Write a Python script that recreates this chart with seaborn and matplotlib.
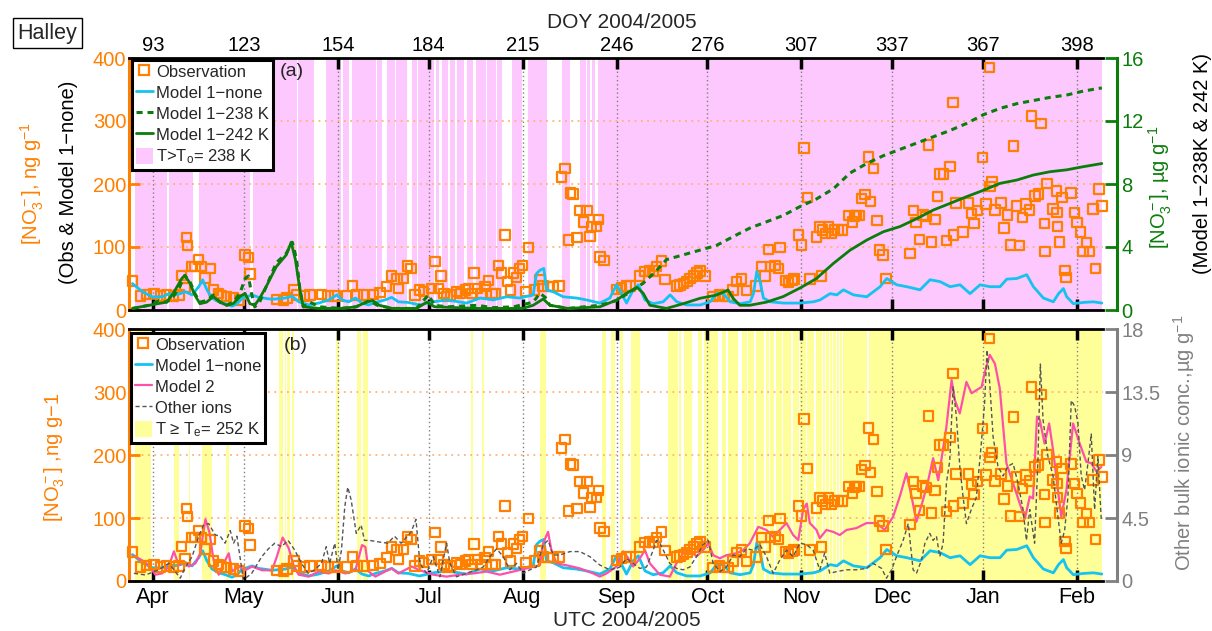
import numpy as np
import pandas as pd
import matplotlib
matplotlib.use("Agg")
import matplotlib.pyplot as plt
import seaborn as sns
from matplotlib.lines import Line2D
from matplotlib.patches import Patch

# ---------------- data (x = day of year 2004/2005) ----------------
doy_ticks = [93, 123, 154, 184, 215, 246, 276, 307, 337, 367, 398]
doy_labels = ["93", "123", "154", "184", "215", "246", "276", "307", "337", "367", "398"]
month_labels = ["Apr", "May", "Jun", "Jul", "Aug", "Sep", "Oct", "Nov", "Dec", "Jan", "Feb"]

obs_doy = [86.2, 88.9, 90.9, 93.3, 95.5, 97.5, 99.7, 101.6, 102.5, 103.6, 104.1, 104.3, 105.8, 106.9,
           108.0, 109.1, 110.2, 112.0, 112.9, 114.6, 115.5, 117.3, 119.5, 121.5, 123.4, 124.5, 125.0,
           133.8, 136.0, 137.3, 139.5, 140.4, 142.8, 144.8, 148.7, 150.8, 153.1, 156.9, 158.9, 160.4,
           162.4, 165.7, 167.9, 170.1, 171.8, 173.5, 174.0, 175.6, 177.0, 178.1, 179.5, 181.0, 182.3,
           185.0, 186.1, 187.2, 188.0, 189.1, 190.0, 191.2, 193.4, 194.5, 196.1, 197.2, 198.3, 198.9,
           200.2, 201.3, 202.6, 203.7, 204.9, 206.0, 207.0, 208.1, 209.2, 210.0, 211.1, 212.0, 213.0,
           214.0, 215.0, 216.1, 216.9, 219.0, 220.7, 221.8, 223.4, 225.1, 227.0, 227.9, 229.0, 230.1,
           230.8, 231.7, 232.9, 234.0, 235.1, 236.2, 237.3, 237.8, 239.4, 240.1, 240.5, 241.9, 246.0,
           247.7, 249.3, 250.5, 253.5, 255.4, 256.8, 258.1, 259.2, 260.8, 262.0, 265.9, 267.0, 268.1,
           269.2, 270.3, 271.4, 272.5, 273.6, 275.2, 277.8, 280.0, 281.6, 282.8, 284.5, 285.6, 287.3,
           288.9, 292.0, 293.9, 295.0, 296.1, 296.9, 298.3, 299.4, 300.0, 301.7, 302.8, 303.9, 304.6,
           306.0, 307.1, 307.9, 309.0, 309.9, 312.0, 313.1, 313.7, 314.0, 314.9, 316.0, 316.9, 318.0,
           319.1, 320.4, 322.8, 323.9, 324.6, 325.3, 326.0, 326.9, 328.0, 329.1, 329.8, 330.9, 332.0,
           332.9, 333.9, 334.9, 342.9, 344.0, 344.9, 346.0, 347.1, 348.2, 349.0, 350.0, 351.1, 351.9,
           352.8, 353.9, 355.0, 356.1, 357.0, 357.2, 358.1, 360.3, 362.2, 363.2, 364.0, 365.2, 366.9,
           368.0, 369.1, 369.3, 369.9, 370.9, 372.9, 373.9, 375.0, 376.1, 377.0, 378.1, 379.0, 380.1,
           381.2, 382.3, 383.0, 384.2, 385.3, 386.1, 387.2, 387.4, 388.1, 390.1, 391.2, 391.4, 391.6,
           392.2, 393.0, 394.1, 394.3, 396.0, 397.1, 398.0, 399.1, 400.0, 401.1, 402.2, 403.3, 404.1,
           405.2, 406.3]
obs_val = [46, 22, 25, 26, 22, 24, 22, 24, 55, 36, 115, 102, 69, 69,
           80, 69, 51, 66, 32, 26, 22, 21, 19, 16, 87, 83, 57,
           17, 16, 19, 32, 24, 22, 24, 25, 22, 22, 22, 38, 24,
           24, 25, 28, 37, 54, 49, 34, 50, 70, 66, 24, 32, 29,
           34, 77, 34, 54, 26, 21, 24, 29, 26, 32, 34, 26, 59,
           34, 26, 37, 47, 26, 26, 71, 59, 119, 45, 32, 59, 52,
           66, 71, 29, 99, 32, 48, 38, 37, 37, 38, 211, 225, 111,
           186, 184, 115, 158, 140, 158, 117, 133, 133, 144, 84, 79, 33,
           36, 38, 38, 54, 61, 62, 62, 69, 78, 48, 38, 40, 42,
           45, 50, 54, 59, 62, 54, 21, 24, 21, 21, 32, 45, 49,
           31, 38, 69, 54, 96, 69, 71, 66, 99, 47, 44, 47, 49,
           119, 103, 257, 179, 49, 116, 132, 54, 127, 121, 132, 121, 127,
           127, 127, 150, 140, 149, 150, 150, 177, 183, 243, 172, 225, 142,
           95, 87, 50, 90, 158, 139, 112, 151, 148, 262, 108, 144, 180,
           216, 216, 110, 228, 329, 119, 170, 124, 170, 153, 137, 158, 242,
           168, 385, 196, 204, 159, 170, 130, 151, 103, 260, 165, 102, 147,
           168, 159, 308, 181, 184, 296, 137, 93, 201, 160, 189, 155, 133,
           108, 179, 63, 52, 186, 155, 139, 124, 93, 107, 93, 160, 66,
           192, 165]

m1none_doy = [86.2, 89.5, 92.8, 96.1, 98.3, 100.0, 102.1, 103.7, 105.9, 108.1, 109.4, 110.8, 112.5,
              114.7, 116.9, 119.1, 120.8, 122.4, 124.0, 125.7, 127.9, 132.3, 136.7, 138.9, 141.1,
              144.4, 147.7, 151.0, 153.7, 155.4, 157.6, 159.8, 162.0, 164.2, 166.4, 169.6, 171.8,
              174.0, 177.3, 181.0, 185.5, 190.0, 196.5, 201.0, 205.3, 209.7, 214.1, 218.5, 219.6,
              220.7, 222.0, 222.9, 225.1, 228.4, 232.8, 236.1, 240.5, 243.8, 246.0, 247.7, 249.3,
              251.5, 253.2, 255.4, 258.1, 261.4, 263.7, 265.9, 269.2, 273.6, 276.9, 279.1, 281.3,
              283.5, 286.8, 290.1, 291.2, 292.3, 293.4, 294.5, 296.7, 301.1, 306.6, 311.0, 313.2,
              316.5, 318.7, 320.9, 324.2, 328.6, 333.0, 335.2, 338.5, 341.8, 346.2, 349.5, 352.8,
              356.1, 359.4, 362.7, 366.0, 369.3, 372.6, 374.8, 378.1, 381.4, 383.6, 386.9, 390.2,
              391.9, 393.5, 394.6, 396.8, 400.1, 403.4, 406.2]
m1none_val = [42, 29, 21, 21, 26, 24, 26, 29, 24, 37, 48, 32, 19,
              13, 10, 6, 10, 19, 21, 24, 20, 17, 19, 22, 13,
              8, 11, 16, 24, 16, 13, 19, 11, 8, 12, 16, 20,
              13, 12, 8, 13, 16, 11, 19, 16, 21, 19, 24, 58,
              63, 66, 32, 29, 21, 19, 16, 11, 19, 40, 26, 11,
              32, 40, 16, 10, 13, 24, 13, 8, 8, 13, 26, 26,
              13, 10, 13, 26, 61, 45, 19, 13, 11, 11, 13, 16,
              26, 24, 32, 24, 21, 37, 50, 40, 37, 32, 48, 45,
              37, 40, 26, 40, 37, 37, 49, 50, 56, 37, 19, 13,
              26, 34, 21, 10, 12, 13, 11]

m238_doy = [86.2, 91.7, 95.0, 97.5, 99.7, 101.9, 103.5, 105.2, 106.8, 108.5, 110.7, 112.9, 115.1,
            117.3, 119.5, 121.7, 123.4, 124.5, 125.5, 126.6, 128.2, 130.4, 133.7, 137.0, 139.0,
            140.4, 141.5, 142.6, 144.8, 148.0, 155.0, 160.0, 164.5, 167.0, 172.0, 180.0, 183.9,
            186.0, 190.0, 200.0, 205.0, 212.0, 218.5, 220.7, 222.5, 224.0, 230.0, 240.5, 246.0,
            251.5, 254.8, 259.2, 262.5, 268.0, 273.5, 279.0, 284.5, 290.0, 295.5, 301.0, 306.5,
            312.0, 317.6, 323.1, 328.6, 334.1, 339.6, 345.1, 350.6, 356.1, 361.6, 367.1, 372.6,
            378.1, 383.6, 389.1, 394.6, 400.1, 406.2]
m238_val = [0.1, 0.3, 0.6, 0.5, 0.85, 1.5, 2.2, 1.8, 1.06, 0.5, 0.6, 0.95, 0.5,
            0.3, 0.5, 1.06, 2.0, 2.16, 1.06, 0.2, 0.5, 1.5, 3.0, 3.6, 4.3,
            3.2, 1.3, 0.2, 0.5, 0.2, 0.1, 0.2, 0.6, 0.3, 0.1, 0.1, 0.95,
            0.3, 0.2, 0.3, 0.15, 0.2, 0.5, 1.06, 0.8, 0.3, 0.1, 0.3, 0.6,
            1.27, 1.7, 2.5, 3.2, 3.5, 3.8, 4.1, 4.66, 5.2, 5.6, 6.0, 6.56,
            7.05, 7.7, 8.7, 9.3, 9.8, 10.2, 10.6, 11.0, 11.4, 11.85, 12.4, 12.8,
            13.1, 13.3, 13.5, 13.65, 13.9, 14.1]

m242_doy = [86.2, 91.7, 97.5, 99.7, 102.5, 103.5, 105.2, 106.8, 108.5, 110.7, 112.9, 115.1, 117.3,
            119.5, 121.7, 123.4, 125.0, 126.6, 128.2, 130.4, 133.7, 137.0, 138.6, 140.0, 141.5,
            142.6, 148.0, 155.0, 160.0, 163.4, 165.5, 167.7, 172.0, 180.0, 183.4, 186.0, 200.0,
            215.0, 218.5, 221.8, 224.0, 230.0, 240.5, 246.0, 249.3, 252.8, 254.8, 257.0, 262.5,
            268.0, 273.5, 279.0, 282.8, 284.5, 286.7, 290.0, 295.5, 301.0, 307.0, 312.0, 317.6,
            323.1, 328.6, 334.1, 339.6, 345.1, 350.6, 356.1, 361.6, 367.1, 372.6, 378.1, 383.6,
            389.1, 394.6, 400.1, 406.2]
m242_val = [0.1, 0.3, 0.5, 1.06, 2.0, 2.2, 1.7, 0.95, 0.4, 0.5, 0.85, 0.5, 0.3,
            0.4, 0.85, 1.06, 0.4, 0.3, 0.74, 1.5, 2.75, 3.5, 4.3, 3.2, 1.27,
            0.2, 0.1, 0.1, 0.2, 0.5, 0.6, 0.3, 0.1, 0.1, 0.5, 0.2, 0.1,
            0.1, 0.3, 0.7, 0.3, 0.1, 0.2, 0.63, 1.06, 1.44, 1.06, 0.3, 0.1,
            0.4, 0.74, 0.95, 1.27, 0.74, 0.3, 0.3, 0.5, 0.85, 1.44, 2.0, 2.96,
            3.8, 4.44, 4.97, 5.3, 5.8, 6.35, 6.77, 7.2, 7.6, 8.04, 8.25, 8.57,
            8.78, 8.9, 9.1, 9.3]

m2_doy = [86.7, 89.4, 91.6, 93.8, 96.0, 98.2, 99.9, 101.5, 103.2, 104.8, 107.0, 108.6, 110.3,
          111.6, 113.0, 114.7, 116.3, 118.0, 119.1, 121.3, 123.4, 125.7, 129.0, 132.3, 133.9,
          135.8, 137.8, 139.4, 141.1, 144.4, 147.7, 151.0, 153.2, 156.5, 159.8, 162.0, 163.1,
          164.2, 166.4, 169.6, 171.8, 174.0, 178.4, 181.1, 185.5, 189.9, 194.3, 198.7, 203.1,
          207.5, 211.9, 216.3, 220.7, 221.8, 223.4, 224.5, 226.2, 229.5, 233.9, 238.3, 240.5,
          242.7, 246.0, 248.2, 249.9, 251.5, 253.7, 255.4, 257.0, 260.3, 263.6, 265.8, 268.0,
          270.2, 272.4, 274.6, 276.3, 277.9, 280.1, 282.3, 285.6, 287.8, 290.0, 292.8, 295.5,
          297.7, 299.9, 302.1, 304.3, 306.0, 307.6, 308.8, 309.8, 312.0, 313.1, 315.3, 317.5,
          319.7, 321.9, 325.2, 328.5, 331.8, 334.5, 337.3, 339.5, 341.7, 343.4, 345.0, 347.2,
          348.9, 350.5, 352.2, 354.9, 356.6, 357.7, 359.3, 361.5, 363.2, 364.8, 366.5, 367.6,
          369.2, 370.9, 372.5, 374.7, 376.9, 379.1, 380.8, 382.4, 383.5, 384.8, 385.7, 387.3,
          388.8, 390.1, 391.7, 392.8, 394.5, 396.7, 398.9, 401.1, 402.7, 404.4, 406.0]
m2_val = [40, 33, 25, 10, 12, 23, 47, 25, 31, 23, 28, 44, 98,
          78, 33, 10, 28, 44, 15, 23, 17, 23, 17, 17, 39,
          69, 52, 25, 10, 7, 15, 12, 17, 12, 17, 57, 54,
          15, 7, 15, 20, 12, 23, 17, 10, 7, 10, 12, 15,
          10, 15, 20, 25, 60, 78, 49, 28, 25, 20, 12, 7,
          12, 23, 47, 36, 23, 36, 49, 28, 10, 7, 28, 44,
          49, 39, 49, 60, 41, 36, 41, 44, 49, 60, 86, 81,
          70, 81, 92, 73, 65, 113, 123, 92, 81, 68, 81, 78,
          73, 81, 84, 92, 92, 81, 102, 134, 171, 134, 94, 129,
          160, 195, 160, 245, 319, 287, 266, 316, 298, 303, 308, 332,
          359, 345, 306, 187, 155, 123, 99, 134, 131, 261, 256, 218,
          250, 208, 144, 102, 144, 250, 218, 189, 187, 174, 181]

ions_doy = [86.7, 90.5, 94.9, 98.2, 99.9, 102.0, 103.7, 105.9, 108.1, 109.7, 111.4, 113.5, 115.2,
            116.8, 118.5, 119.6, 120.7, 121.8, 122.8, 125.6, 128.9, 131.1, 133.2, 135.4, 137.6,
            139.8, 142.0, 144.2, 146.4, 148.6, 150.2, 151.3, 153.0, 154.1, 155.2, 156.3, 157.3,
            158.4, 160.1, 161.7, 162.8, 164.5, 167.2, 170.5, 172.7, 174.9, 178.2, 179.8, 181.1,
            183.3, 185.5, 187.7, 189.9, 191.0, 193.2, 196.5, 199.8, 202.0, 204.2, 206.4, 208.6,
            210.8, 213.0, 215.2, 217.4, 219.6, 221.8, 223.4, 225.1, 227.3, 230.6, 233.9, 237.2,
            240.5, 243.8, 247.1, 249.3, 251.5, 253.7, 255.9, 258.1, 259.2, 260.3, 261.9, 263.6,
            265.8, 268.0, 270.2, 272.4, 274.6, 276.3, 277.9, 280.1, 282.3, 284.5, 286.7, 288.9,
            291.1, 293.3, 295.5, 297.7, 299.9, 302.1, 304.3, 306.5, 308.7, 310.9, 313.1, 314.7,
            316.4, 318.6, 321.9, 325.2, 328.5, 330.7, 333.5, 335.1, 336.8, 338.4, 340.6, 342.3,
            343.9, 345.0, 346.7, 347.8, 349.4, 350.5, 351.6, 352.7, 353.8, 354.9, 356.0, 357.1,
            358.2, 359.3, 360.4, 361.5, 363.1, 364.8, 366.4, 367.5, 368.3, 369.2, 370.3, 371.9,
            373.6, 375.2, 376.9, 378.5, 380.2, 381.3, 382.4, 384.0, 385.1, 385.9, 386.8, 388.4,
            390.1, 391.7, 392.8, 393.9, 395.0, 396.1, 397.2, 398.3, 399.4, 400.5, 401.6, 402.7,
            403.8, 404.9, 406.0]
ions_val = [0.55, 0.43, 0.8, 1.26, 0.8, 0.2, 1.0, 1.74, 3.2, 4.0, 4.1, 3.3, 3.2,
            2.7, 3.6, 2.7, 3.2, 1.6, 0.07, 0.55, 1.74, 2.3, 2.7, 2.45, 2.9,
            2.2, 1.26, 0.55, 0.8, 1.26, 2.45, 1.26, 2.7, 0.8, 2.2, 5.3, 6.7,
            5.8, 3.4, 4.0, 2.9, 2.9, 2.8, 2.7, 3.2, 2.7, 3.5, 4.4, 1.26,
            0.55, 1.74, 0.3, 2.7, 1.26, 0.3, 0.55, 0.8, 1.0, 1.74, 2.3, 1.74,
            0.8, 1.26, 0.55, 0.8, 1.0, 2.6, 2.9, 1.86, 1.86, 2.1, 2.1, 1.74,
            1.14, 0.8, 1.0, 1.6, 1.26, 0.9, 1.0, 2.2, 2.9, 2.7, 2.0, 1.26,
            0.9, 0.8, 1.0, 1.74, 2.6, 2.9, 1.26, 0.67, 1.0, 1.86, 1.74, 2.3,
            2.2, 2.6, 1.74, 0.55, 1.5, 2.2, 1.74, 2.7, 2.6, 2.2, 0.8, 2.0,
            0.55, 0.67, 0.8, 0.8, 0.9, 1.26, 0.9, 0.2, 0.8, 1.74, 2.9, 4.1,
            0.8, 0.55, 1.5, 2.7, 3.4, 2.9, 3.2, 1.74, 2.7, 7.0, 8.6, 13.9,
            11.7, 8.2, 6.0, 4.1, 5.1, 6.0, 9.8, 12.7, 16.5, 14.1, 10.3, 8.2,
            7.5, 8.2, 8.4, 7.0, 5.1, 2.9, 5.1, 2.7, 8.6, 15.5, 11.5, 8.9,
            7.5, 4.6, 2.7, 3.6, 6.0, 12.9, 12.5, 11.3, 7.5, 6.5, 8.4, 10.5,
            5.1, 8.9, 4.4]

# periods with T > To = 238 K (panel a) and T >= Te = 252 K (panel b), as (start, end) DOY
warm238_spans = [(87.0, 97.6), (98.2, 106.2), (108.2, 125.0), (125.9, 140.5), (141.0, 146.1),
                 (150.1, 155.0), (155.6, 157.7), (158.7, 166.5), (167.0, 168.6), (170.3, 172.8),
                 (173.3, 176.8), (178.5, 180.0), (180.6, 185.8), (186.5, 187.4), (188.4, 190.5),
                 (191.0, 192.7), (193.3, 195.7), (196.7, 198.6), (199.6, 203.0), (203.4, 206.3),
                 (206.7, 208.2), (211.5, 214.8), (216.8, 223.0), (228.0, 230.6), (234.0, 236.0),
                 (236.4, 237.4), (237.9, 238.9), (239.9, 406.2)]
warm252_spans = [(87.0, 92.3), (100.0, 101.6), (104.8, 105.3), (109.2, 112.5), (117.0, 118.0),
                 (134.6, 135.9), (136.6, 137.0), (137.3, 138.2), (139.0, 139.4), (153.4, 154.4),
                 (160.3, 161.7), (162.3, 164.0), (198.0, 198.6), (201.6, 202.3), (220.7, 222.7),
                 (241.2, 242.5), (244.2, 245.5), (247.2, 248.2), (250.8, 253.8), (263.0, 266.3),
                 (266.6, 267.3), (268.3, 270.9), (272.9, 274.2), (274.9, 279.5), (280.8, 282.1),
                 (282.8, 286.1), (287.4, 289.0), (289.3, 291.5), (291.9, 294.8), (295.2, 296.4),
                 (296.8, 298.1), (298.5, 300.7), (301.1, 303.7), (304.1, 306.3), (306.7, 308.6),
                 (309.0, 311.3), (311.7, 313.9), (314.3, 314.9), (315.3, 316.2), (316.6, 317.2),
                 (317.6, 318.5), (318.9, 319.5), (319.9, 320.5), (320.9, 328.8), (329.2, 406.2)]

# ---------------- style ----------------
ORANGE = "#FF7F00"
CYAN = "#14C3F0"
GREEN = "#0B7D0B"
PINKSHADE = "#FDC8FD"
YELLOW = "#FFFF9A"
MODEL2 = "#FF4FA8"
IONS = "#555555"
GREYAX = "#808080"

sns.set_style("white")
plt.rcParams["font.family"] = ["Liberation Sans", "DejaVu Sans"]
plt.rcParams["mathtext.fontset"] = "custom"
plt.rcParams["mathtext.rm"] = "Liberation Sans"
plt.rcParams["mathtext.it"] = "Liberation Sans:italic"
plt.rcParams["mathtext.bf"] = "Liberation Sans:bold"
plt.rcParams["axes.unicode_minus"] = True

W, H = 1212, 631
fig = plt.figure(figsize=(W / 100, H / 100), dpi=100)


def rect(l, t, r, b):
    return [l / W, 1 - b / H, (r - l) / W, (b - t) / H]


XMIN, XMAX = 85.08, 406.58
TS = 14.5


def setup_panel(ax, ax2, right_color, top_labels):
    ax.set_xlim(XMIN, XMAX)
    ax.set_ylim(0, 400)
    ax.set_yticks([0, 100, 200, 300, 400])
    ax.set_xticks(doy_ticks)
    ax.xaxis.set_ticks_position("both")
    if top_labels:
        ax.set_xticklabels(doy_labels)
        ax.tick_params(axis="x", labeltop=True, labelbottom=False, labelsize=TS, pad=2)
    else:
        ax.set_xticklabels(month_labels)
        ax.tick_params(axis="x", labeltop=False, labelbottom=True, labelsize=15.5, pad=4)
    ax.tick_params(axis="x", direction="in", length=8, width=2.5, colors="black")
    ax.tick_params(axis="y", direction="in", length=8, width=2, colors=ORANGE,
                   labelsize=TS, pad=2)
    for s in ["top", "bottom"]:
        ax.spines[s].set_color("black")
        ax.spines[s].set_linewidth(2)
    ax.spines["left"].set_color(ORANGE)
    ax.spines["left"].set_linewidth(2.2)
    ax.spines["right"].set_visible(False)
    ax.xaxis.grid(True, linestyle=(0, (1, 2)), color="#808080", linewidth=1)
    ax.yaxis.grid(True, linestyle=(0, (1, 2.5)), color="#FFB27A", linewidth=1.3)
    ax.set_xlabel("")
    ax.set_ylabel("")
    for s in ["top", "bottom", "left"]:
        ax2.spines[s].set_visible(False)
    ax2.spines["right"].set_position(("outward", 10))
    ax2.spines["right"].set_color(right_color)
    ax2.spines["right"].set_linewidth(2.2)
    ax2.tick_params(axis="y", direction="in", length=9, width=2, colors=right_color,
                    labelsize=TS, pad=3)
    ax2.set_xlabel("")
    ax2.set_ylabel("")
    ax2.set_xlim(XMIN, XMAX)


def obs_scatter(ax):
    sns.scatterplot(x=obs_doy, y=obs_val, ax=ax, marker="s", s=46, linewidth=1.6, zorder=3)
    pts = ax.collections[-1]
    pts.set_facecolor("none")
    pts.set_edgecolor(ORANGE)
    pts.set_clip_on(False)


LEG_KW = dict(loc="upper left", borderaxespad=0, fontsize=12, frameon=True, fancybox=False,
              framealpha=1, edgecolor="black", handlelength=1.05, handletextpad=0.2,
              labelspacing=0.26, borderpad=0.22, handleheight=1.1)

# ---------------- panel (a) ----------------
axA = fig.add_axes(rect(129, 58, 1103, 310))
for s0, s1 in warm238_spans:
    axA.axvspan(s0, s1, color=PINKSHADE, lw=0, zorder=0.5)
obs_scatter(axA)
sns.lineplot(x=m1none_doy, y=m1none_val, ax=axA, color=CYAN, linewidth=2,
             estimator=None, sort=False, zorder=4)
axA2 = axA.twinx()
sns.lineplot(x=m238_doy, y=m238_val, ax=axA2, color=GREEN, linewidth=2.2,
             linestyle=(0, (2, 1.6)), estimator=None, sort=False)
sns.lineplot(x=m242_doy, y=m242_val, ax=axA2, color=GREEN, linewidth=2,
             estimator=None, sort=False)
axA2.set_ylim(0, 16)
axA2.set_yticks([0, 4, 8, 12, 16])
setup_panel(axA, axA2, GREEN, True)

hA = [Line2D([], [], marker="s", ls="none", mfc="none", mec=ORANGE, mew=1.6, ms=6.8),
      Line2D([], [], color=CYAN, lw=2),
      Line2D([], [], color=GREEN, lw=2.2, ls=(0, (2, 1.6))),
      Line2D([], [], color=GREEN, lw=2),
      Patch(facecolor=PINKSHADE, edgecolor="none")]
lA = ["Observation", "Model 1\u2212none", "Model 1\u2212238 K", "Model 1\u2212242 K",
      r"T>T$_\mathrm{o}$= 238 K"]
legA = axA2.legend(hA, lA, bbox_to_anchor=(0.003, 0.993), **LEG_KW)
legA.get_frame().set_linewidth(2.2)
axA.text(0.167, 0.945, "(a)", transform=axA.transAxes, fontsize=14, ha="center", va="center")

# ---------------- panel (b) ----------------
axB = fig.add_axes(rect(129, 329, 1103, 581))
for s0, s1 in warm252_spans:
    axB.axvspan(s0, s1, color=YELLOW, lw=0, zorder=0.5)
sns.lineplot(x=m1none_doy, y=m1none_val, ax=axB, color=CYAN, linewidth=2,
             estimator=None, sort=False, zorder=2)
sns.lineplot(x=m2_doy, y=m2_val, ax=axB, color=MODEL2, linewidth=1.6,
             estimator=None, sort=False, zorder=2.5)
obs_scatter(axB)
axB2 = axB.twinx()
sns.lineplot(x=ions_doy, y=ions_val, ax=axB2, color=IONS, linewidth=1,
             linestyle=(0, (3, 2)), estimator=None, sort=False)
axB2.set_ylim(0, 18)
axB2.set_yticks([0, 4.5, 9, 13.5, 18])
axB2.set_yticklabels(["0", "4.5", "9", "13.5", "18"])
setup_panel(axB, axB2, GREYAX, False)

hB = [Line2D([], [], marker="s", ls="none", mfc="none", mec=ORANGE, mew=1.6, ms=6.8),
      Line2D([], [], color=CYAN, lw=2),
      Line2D([], [], color=MODEL2, lw=1.6),
      Line2D([], [], color=IONS, lw=1, ls=(0, (3, 2))),
      Patch(facecolor=YELLOW, edgecolor="none")]
lB = ["Observation", "Model 1\u2212none", "Model 2", "Other ions",
      "T \u2265 T$_\\mathrm{e}$= 252 K"]
legB = axB2.legend(hB, lB, bbox_to_anchor=(0.002, 0.985), **LEG_KW)
legB.get_frame().set_linewidth(2.2)
axB.text(0.171, 0.935, "(b)", transform=axB.transAxes, fontsize=14, ha="center", va="center")

# ---------------- labels ----------------
LS = 14.5
fig.text(32 / W, 1 - 183 / H, r"[NO$_3^-$], ng g$^{-1}$", rotation=90, color=ORANGE,
         fontsize=LS, ha="center", va="center")
fig.text(68 / W, 1 - 182 / H, "(Obs & Model 1\u2212none)", rotation=90, color="black",
         fontsize=LS, ha="center", va="center")
fig.text(1160 / W, 1 - 187 / H, "[NO$_3^-$], \u00b5g g$^{-1}$",
         rotation=90, color=GREEN, fontsize=LS, ha="center", va="center")
fig.text(1202 / W, 1 - 163 / H, "(Model 1\u2212238K & 242 K)", rotation=90, color="black",
         fontsize=LS, ha="center", va="center")
fig.text(55 / W, 1 - 457 / H, "[NO$_3^-$] ,ng g\u22121", rotation=90, color=ORANGE,
         fontsize=LS, ha="center", va="center")
fig.text(1184 / W, 1 - 443 / H, "Other bulk ionic conc.,\u00b5g g$^{-1}$", rotation=90,
         color=GREYAX, fontsize=LS, ha="center", va="center")
fig.text(622 / W, 1 - 22 / H, "DOY 2004/2005", fontsize=15, ha="center", va="center")
fig.text(627 / W, 1 - 621 / H, "UTC 2004/2005", fontsize=15, ha="center", va="center")
fig.text(47.5 / W, 1 - 33 / H, "Halley", fontsize=15.5, ha="center", va="center",
         bbox=dict(boxstyle="square,pad=0.2", facecolor="white", edgecolor="black", linewidth=1))

fig.savefig("out.png", dpi=100)
